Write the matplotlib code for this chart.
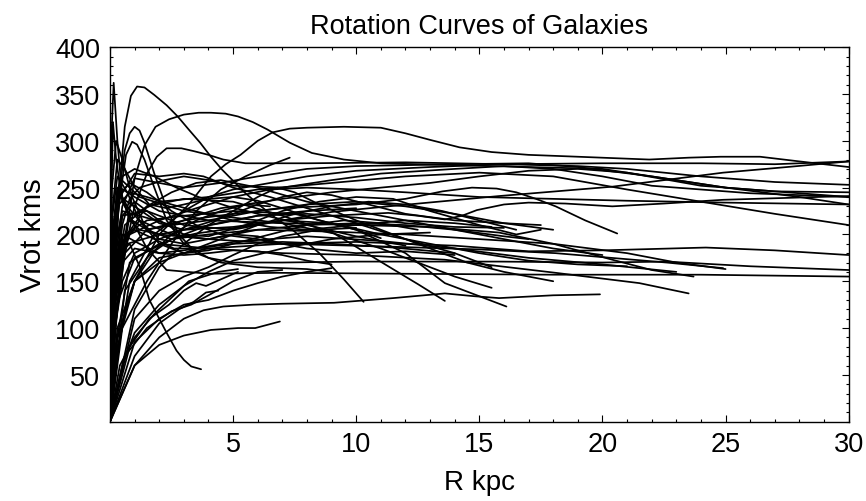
import matplotlib
matplotlib.use("Agg")
import matplotlib.pyplot as plt
from matplotlib.ticker import MultipleLocator

# rotation curves, (R kpc, Vrot km/s) pairs
g01 = [(0, 0), (0.15, 120), (0.35, 240), (0.6, 315), (0.85, 348), (1.1, 358), (1.4, 357),
       (1.8, 349), (2.3, 338), (2.75, 326), (3.2, 312), (3.66, 298), (4.1, 283), (4.56, 269),
       (5.5, 244), (6.5, 222), (7.5, 203), (8.5, 180), (9.5, 152), (10.3, 128)]
g02 = [(0, 0), (0.2, 90), (0.5, 180), (1.0, 260), (1.4, 295), (1.85, 315), (2.4, 323),
       (3.0, 328), (3.6, 330), (4.1, 330), (4.7, 329), (5.2, 326), (5.8, 320), (6.4, 312),
       (7.3, 298), (8.2, 287), (9.5, 280), (11, 276), (14, 274), (17, 272), (20, 270),
       (22, 262), (25, 250), (28, 244), (30, 240)]
g03 = [(0, 0), (0.3, 80), (1, 150), (2, 200), (3.2, 232), (4.1, 262), (4.7, 275), (5.3, 285),
       (6, 300), (6.6, 309), (7.3, 313), (8, 314), (9.5, 315), (11, 314), (12, 308), (13, 301),
       (14.2, 293), (15.5, 288), (17, 285), (19, 283), (21.9, 280), (23.5, 282), (24.8, 283),
       (26.4, 283), (28, 278), (30, 272)]
g04 = [(0, 0), (0.15, 150), (0.4, 250), (0.6, 290), (0.8, 308), (1.0, 315), (1.2, 311),
       (1.4, 298), (1.8, 265), (2.3, 228), (2.8, 200), (3.5, 180), (4.5, 170), (6, 165),
       (8, 163), (9, 160)]
g05 = [(0, 0), (0.15, 170), (0.4, 240), (0.65, 285), (0.9, 299), (1.1, 296), (1.4, 280),
       (1.8, 250), (2.3, 215), (3, 190), (4, 175), (5, 170), (7, 170), (10, 171), (15.8, 171),
       (20, 170), (22.6, 171), (26, 166), (30, 162)]
g06 = [(0, 0), (0.15, 100), (0.5, 170), (1, 230), (1.5, 265), (1.9, 283), (2.3, 292),
       (2.9, 292), (3.4, 289), (4.0, 285), (4.6, 280), (5.5, 276), (8, 276), (12, 277),
       (16, 275), (19, 273), (21, 270), (24, 262), (27, 256), (30, 253)]
g07 = [(0, 0), (0.5, 100), (1.5, 150), (2.5, 190), (3.5, 225), (4.5, 248), (5.5, 262),
       (6.5, 274), (7.3, 282)]
g08 = [(0, 0), (0.2, 80), (1, 150), (1.8, 182), (2.5, 195), (3.5, 201), (4.6, 205), (7, 215),
       (9, 224), (11.3, 230), (15.8, 241), (20.4, 251), (22.5, 258), (24.9, 266), (27.5, 272),
       (30, 278)]
g09 = [(0, 0), (0.15, 160), (0.5, 230), (1, 260), (2, 255), (3, 250), (4.5, 255), (6, 262),
       (8, 270), (10, 273), (14, 275), (17, 276), (19, 272), (22, 262), (25, 250), (28, 240),
       (30, 232)]
g10 = [(0, 0), (0.15, 120), (0.5, 210), (0.8, 238), (1.2, 250), (2.2, 258), (3, 262),
       (4, 258), (5, 252), (7, 250), (9, 258), (11, 265), (14, 270), (16, 273), (18, 270),
       (20, 262), (22, 252), (26, 244), (30, 240)]
g11 = [(0, 0), (0.2, 130), (0.8, 220), (2, 235), (4, 240), (6, 248), (9, 255), (12, 262),
       (15, 266), (18, 262), (21, 248), (24, 235), (27, 222), (30, 210)]
g12 = [(0, 0), (0.2, 100), (0.6, 180), (1.5, 205), (3, 215), (5, 222), (7, 228), (10, 232),
       (12, 238), (13.5, 246), (14.7, 250), (15.7, 249), (16.5, 245), (17.3, 238), (18.1, 230),
       (19.3, 215), (20.6, 201)]
g13 = [(0, 0), (0.15, 150), (0.5, 220), (1.5, 225), (3, 210), (5, 205), (7, 215), (9, 220),
       (11.3, 223), (12.5, 220), (13.6, 216), (14.3, 220), (14.9, 226), (16, 232), (17, 234),
       (18.5, 233), (20.4, 230), (22.5, 233), (24.9, 237), (30, 241)]
g14 = [(0, 0), (0.2, 130), (0.7, 190), (2, 200), (4, 195), (7, 190), (11.3, 187), (15, 184),
       (18.1, 180), (22.6, 170), (24.9, 164)]
g15 = [(0, 0), (0.1, 180), (0.4, 250), (1, 240), (2, 225), (4, 215), (7, 212), (10, 210),
       (13, 208), (15.8, 202), (18, 190), (20.4, 173), (22, 162), (23.7, 155)]
g16 = [(0, 0), (0.3, 90), (0.8, 170), (2, 190), (4, 185), (7, 180), (10, 178), (13.6, 173),
       (18.1, 159), (21.5, 148), (23.5, 137)]
g17 = [(0, 0), (1, 60), (2, 90), (3, 110), (3.8, 119), (4.6, 123), (5.8, 125), (7, 126),
       (9.1, 127), (11.5, 132), (13.6, 137), (14.8, 134), (15.8, 132), (18, 135), (19.9, 136)]
g18 = [(0, 0), (0.1, 200), (0.4, 260), (1.2, 240), (3, 225), (5, 218), (7, 212), (9.1, 201),
       (11, 185), (12.5, 170), (14, 155), (15.5, 143)]
g19 = [(0, 0), (0.2, 120), (0.6, 200), (1.5, 215), (3, 220), (5, 225), (7.5, 222), (10, 205),
       (12, 180), (13.6, 148), (16.1, 123)]
g20 = [(0, 0), (0.2, 140), (0.6, 210), (1.5, 230), (3, 238), (5, 235), (7, 220), (9.1, 201),
       (11.3, 166), (12.5, 147), (13.6, 129)]
g21 = [(0, 0), (1, 60), (2, 82), (3, 92), (4.1, 98), (5.2, 100), (5.9, 100), (6.9, 107)]
g22 = [(0, 0), (0.15, 120), (0.4, 180), (0.8, 190), (1.2, 166), (1.6, 130), (2.3, 95),
       (2.7, 76), (3.0, 66), (3.3, 59), (3.7, 56)]
g23 = [(0, 0), (1, 70), (2, 105), (2.8, 120), (3.4, 128), (3.9, 138), (4.4, 140)]
g24 = [(0, 0), (0.1, 200), (0.3, 250), (0.8, 220), (1.5, 185), (2.3, 162), (4, 158),
       (6.8, 159), (12, 158), (18, 157), (24, 157), (30, 155)]
g25 = [(0, 0), (0.3, 90), (1, 150), (2, 175), (4, 185), (7, 190), (10, 192), (14, 188),
       (17, 182), (20, 183), (24.2, 186), (27, 183), (30, 178)]
g26 = [(0, 0), (0.25, 110), (0.7, 200), (1.5, 230), (2.5, 245), (3.5, 255), (4.5, 258),
       (6, 250), (8, 235), (10, 225), (12, 215), (14, 205), (16, 195), (18, 185), (20, 178)]
g27 = [(0, 0), (0.15, 120), (0.5, 190), (1.2, 215), (2.5, 200), (4, 195), (6, 205), (8, 210),
       (10, 212), (12, 210), (14, 205), (16, 198), (17, 195)]
g28 = [(0, 0), (0.1, 170), (0.4, 240), (1, 265), (2, 262), (3, 265), (3.8, 262), (5, 250),
       (6.5, 240), (8, 228), (10, 212), (12, 195), (14, 180), (15.5, 165)]
g29 = [(0, 0), (0.15, 140), (0.5, 220), (1, 235), (2, 215), (3, 200), (4, 198), (5.5, 210),
       (7, 225), (8.5, 235), (10, 240), (11.5, 238), (13, 225), (15, 210), (16.5, 200),
       (17.5, 205)]
g30 = [(0, 0), (1, 120), (2, 165), (3, 190), (4, 210), (5, 225), (6, 240), (6.8, 250),
       (7.5, 245), (8.5, 232), (10, 215), (11.5, 200), (13, 185), (14.5, 170), (16, 160),
       (18, 150)]
g31 = [(0, 0), (0.1, 190), (0.3, 250), (0.7, 230), (1.5, 205), (2.5, 195), (4, 200), (6, 205),
       (9, 203), (12, 200), (15, 195), (18, 190), (21, 180), (23, 170), (25, 163)]
g32 = [(0, 0), (0.15, 130), (0.5, 200), (1.2, 190), (2, 180), (3, 183), (5, 192), (8, 198),
       (11, 193), (14, 185), (17, 175), (20, 168), (23, 160)]
g33 = [(0, 0), (0.5, 60), (1, 95), (2, 125), (3, 145), (4, 160), (5, 172), (7, 185), (9, 195),
       (11, 200), (13, 202)]
g34 = [(0, 0), (0.6, 70), (1.5, 100), (2.5, 118), (3.3, 125), (4, 135), (5, 150), (6, 160),
       (7, 162)]
g35 = [(0, 0), (0.05, 180), (0.3, 240), (0.8, 255), (1.5, 245), (2.5, 225), (3.5, 210),
       (4.5, 200), (6, 195), (8, 185), (10, 180), (12, 182), (14, 178)]
g36 = [(0, 0), (0.3, 70), (0.8, 150), (1.8, 200), (3, 225), (4, 240), (5, 248), (6.5, 255),
       (8, 262), (10, 268), (13, 272), (16, 275), (20, 276), (24, 276), (27, 275), (30, 278)]
g37 = [(0, 0), (0.1, 220), (0.3, 262), (0.7, 245), (1.2, 215), (2, 190), (3, 180), (4, 183),
       (5, 190), (6.5, 200), (8, 210), (9.5, 215), (11, 212), (12.5, 205)]
g38 = [(0, 0), (1, 110), (2, 140), (3, 155), (4, 165), (5, 178), (6, 190), (7, 198),
       (8.5, 205), (10, 207)]
g39 = [(0, 0), (0.2, 100), (0.5, 150), (1, 180), (2, 195), (3, 205), (4, 213), (5, 222),
       (6, 232), (7, 240), (8, 245), (9, 242), (10.5, 232), (12, 222), (14, 215), (16, 212),
       (17.5, 210)]
g40 = [(0, 0), (0.08, 250), (0.25, 300), (0.5, 280), (0.9, 240), (1.4, 210), (2, 195),
       (3, 190), (4, 195), (5, 200), (6, 198), (7, 190)]
g41 = [(0, 0), (0.1, 120), (0.5, 170), (1, 185), (2, 180), (3, 178), (4, 180), (5, 183),
       (6, 182), (7, 178), (8, 172), (9, 168)]
g42 = [(0, 0), (1, 85), (2, 110), (3, 125), (4, 130), (5, 140), (6, 148), (7, 155), (8, 160),
       (9, 164)]
g43 = [(0, 0), (0.05, 300), (0.15, 362), (0.3, 300), (0.5, 240), (0.8, 215), (1.2, 205),
       (2, 200), (3, 205), (4.5, 212), (6, 220), (8, 225), (10, 228)]
g44 = [(0, 0), (0.8, 80), (1.6, 110), (2.4, 125), (3, 140), (3.5, 148), (3.9, 145),
       (4.5, 152), (5.2, 160)]
g45 = [(0, 0), (0.05, 160), (0.3, 230), (0.8, 245), (1.5, 240), (2.5, 232), (3.5, 225),
       (5, 215), (6.5, 208), (8, 205), (10, 210), (12, 215), (14, 212), (15.5, 208)]
g46 = [(0, 0), (0.6, 140), (1.5, 175), (2.5, 200), (3.5, 215), (4.5, 225), (5.5, 232),
       (7, 238), (9, 245), (11, 250), (13, 255), (15, 262), (17, 268), (19, 270), (21, 266),
       (24, 252), (27, 246), (30, 245)]
g47 = [(0, 0), (0.08, 220), (0.3, 280), (0.6, 270), (1, 250), (1.6, 232), (2.3, 228),
       (3, 232), (4, 238), (5, 240), (6, 236), (7, 228), (8.5, 215), (10, 205), (11, 196)]
g48 = [(0, 0), (0.1, 120), (0.4, 190), (1, 205), (1.8, 195), (2.6, 185), (3.5, 185), (5, 190),
       (7, 192), (9, 190), (11.5, 186), (14, 180)]
g49 = [(0, 0), (0.15, 180), (0.5, 225), (1.2, 220), (2.5, 210), (4, 215), (6, 225), (8, 232),
       (10, 235), (12, 230), (14, 222), (16, 212), (18, 205)]
g50 = [(0, 0), (0.2, 150), (0.8, 200), (2, 215), (3.5, 228), (5, 240), (6.5, 248), (8, 250),
       (10, 248), (12, 245), (15, 240), (18, 238), (21, 236), (25, 234), (30, 232)]
g51 = [(0, 0), (0.2, 120), (1, 175), (2.5, 195), (4, 210), (6, 220), (8, 222), (10, 218),
       (12, 212), (14, 208), (16, 207)]
g52 = [(0, 0), (0.15, 200), (0.4, 240), (1, 230), (2, 212), (3, 205), (5, 208), (7, 215),
       (9, 212), (11, 200), (13, 190), (15, 180), (17, 172), (19, 168), (21, 166)]
g53 = [(0, 0), (0.2, 220), (0.5, 262), (1, 270), (1.8, 262), (2.7, 250), (3.6, 240),
       (4.8, 230), (6, 222), (8, 210), (10, 198), (12, 188)]
g54 = [(0, 0), (0.3, 100), (1, 150), (2, 170), (3, 180), (4.5, 195), (6, 210), (7.5, 222),
       (9, 230), (10.5, 235), (12, 232), (13.5, 225), (15, 215), (16.5, 205)]
g55 = [(0, 0), (0.05, 230), (0.12, 320), (0.25, 280), (0.5, 235), (0.9, 215), (1.5, 205),
       (2.5, 210), (3.5, 220), (4.5, 228), (5.5, 232), (6.5, 230)]
g56 = [(0, 0), (0.4, 60), (1, 90), (1.8, 115), (2.6, 135), (3.2, 150), (3.8, 155), (4.4, 160),
       (5.2, 163)]

galaxies = [g01, g02, g03, g04, g05, g06, g07, g08, g09, g10, g11, g12, g13, g14, g15, g16,
            g17, g18, g19, g20, g21, g22, g23, g24, g25, g26, g27, g28, g29, g30, g31, g32,
            g33, g34, g35, g36, g37, g38, g39, g40, g41, g42, g43, g44, g45, g46, g47, g48,
            g49, g50, g51, g52, g53, g54, g55, g56]

plt.rcParams["font.family"] = ["Liberation Sans", "DejaVu Sans"]

fig = plt.figure(figsize=(8.66, 5.02), dpi=100)
ax = fig.add_axes([0.127, 0.158, 0.853, 0.746])

for g in galaxies:
    r, v = zip(*g)
    ax.plot(r, v, color="black", lw=1.25, solid_joinstyle="round", solid_capstyle="round")

ax.set_xlim(0, 30)
ax.set_ylim(0, 400)
ax.set_xticks([5, 10, 15, 20, 25, 30])
ax.set_yticks([50, 100, 150, 200, 250, 300, 350, 400])
ax.xaxis.set_minor_locator(MultipleLocator(1))
ax.yaxis.set_minor_locator(MultipleLocator(10))
ax.tick_params(which="both", direction="in", top=True, right=True, labelsize=19.5, width=0.8)
ax.tick_params(which="major", length=5)
ax.tick_params(which="minor", length=2.5)
ax.tick_params(axis="x", pad=7)
ax.tick_params(axis="y", pad=7)
for s in ax.spines.values():
    s.set_linewidth(1.0)

ax.set_xlabel("R kpc", fontsize=20, labelpad=8)
ax.set_ylabel("Vrot kms", fontsize=21, labelpad=6)
ax.set_title("Rotation Curves of Galaxies", fontsize=19.5, pad=10)

fig.savefig("out.png", dpi=100)
